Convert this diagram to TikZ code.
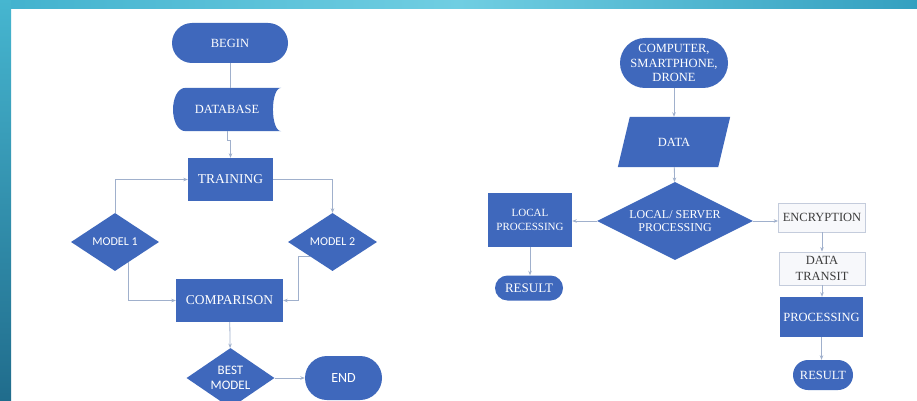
\documentclass[tikz,border=0pt]{standalone}
\usepackage{fontspec}
\setmainfont{Liberation Serif}
\newfontfamily\sansf{Carlito}
\usetikzlibrary{shapes.geometric,arrows.meta,calc,backgrounds}
\definecolor{fblue}{RGB}{63,104,188}
\definecolor{connc}{RGB}{160,176,204}
\definecolor{topL}{RGB}{66,178,206}
\definecolor{topM}{RGB}{112,206,226}
\definecolor{topR}{RGB}{52,160,192}
\definecolor{leftT}{RGB}{70,182,208}
\definecolor{leftB}{RGB}{32,108,140}
\definecolor{lightfill}{RGB}{247,248,251}
\definecolor{lightdraw}{RGB}{196,204,220}
\definecolor{darktext}{RGB}{60,60,60}
\begin{document}
\begin{tikzpicture}[x=1pt,y=-1pt,
  fbbase/.style={fill=fblue,text=white,align=center,inner sep=1pt,font=\fontsize{12.5}{15}\selectfont},
  fbterm/.style={fbbase,rectangle,rounded corners=#1},
  fbproc/.style={fbbase,rectangle},
  fbghost/.style={fbbase,rectangle,fill=none},
  fbdec/.style={fbbase,diamond,inner sep=0pt,aspect=1.5},
  fblight/.style={rectangle,fill=lightfill,draw=lightdraw,line width=0.8pt,text=darktext,align=center,inner sep=1pt,font=\fontsize{12.5}{15}\selectfont},
  fbline/.style={draw=connc,line width=0.8pt},
  fbarrow/.style={fbline,-{Stealth[length=4.5pt,width=3.5pt]}}
]
\useasboundingbox (0,0) rectangle (917,401);
\begin{pgfonlayer}{background}
\fill[white] (0,0) rectangle (917,401);
\shade[left color=topL,right color=topR,middle color=topM] (0,0) rectangle (917,9);
\shade[top color=leftT,bottom color=leftB] (0,0) rectangle (11,401);
\end{pgfonlayer}

% ---------- left flowchart ----------
\node[fbterm=20pt,minimum width=116pt,minimum height=40pt] (begin) at (230,43) {BEGIN};
\node[fbghost,minimum width=108pt,minimum height=43pt] (db) at (227,109.5) {DATABASE};
\node[fbproc,minimum width=85pt,minimum height=43pt,font=\fontsize{13.5}{16}\selectfont] (train) at (230.5,179.5) {TRAINING};
\node[fbdec,minimum width=88pt,minimum height=58pt,font=\sansf\fontsize{12}{15}\selectfont] (m1) at (115,242) {MODEL 1};
\node[fbdec,minimum width=89pt,minimum height=58pt,font=\sansf\fontsize{12}{15}\selectfont] (m2) at (332.5,242) {MODEL 2};
\node[fbproc,minimum width=107pt,minimum height=43pt,font=\fontsize{13.5}{16}\selectfont] (comp) at (229.5,300.5) {COMPARISON};
\node[fbdec,minimum width=88pt,minimum height=60pt,font=\sansf\fontsize{13}{15}\selectfont] (best) at (230.5,378) {BEST\\MODEL};
\node[fbterm=22pt,minimum width=77pt,minimum height=44pt,font=\sansf\fontsize{14}{16}\selectfont] (fin) at (343.5,378) {END};

% ---------- right flowchart ----------
\node[fbterm=25pt,minimum width=108pt,minimum height=50pt,font=\fontsize{12.5}{14.7}\selectfont] (src) at (674,63) {COMPUTER,\\SMARTPHONE,\\DRONE};
\node[fbghost,minimum width=112pt,minimum height=50pt] (data) at (674,142) {DATA};
\node[fbdec,aspect=2,minimum width=156pt,minimum height=78pt,font=\fontsize{12}{13.5}\selectfont] (lsp) at (675,221) {LOCAL/ SERVER\\PROCESSING};
\node[fbproc,minimum width=84pt,minimum height=54pt,font=\fontsize{11}{14.3}\selectfont] (local) at (530,220) {LOCAL\\PROCESSING};
\node[fbterm=12.5pt,minimum width=68pt,minimum height=25pt,font=\fontsize{13}{15}\selectfont] (res1) at (529,288) {RESULT};
\node[fblight,minimum width=87pt,minimum height=29pt] (enc) at (822,217.5) {ENCRYPTION};
\node[fblight,minimum width=86pt,minimum height=33pt,font=\fontsize{12.5}{15.7}\selectfont] (dt) at (822,268.5) {DATA\\TRANSIT};
\node[fbproc,minimum width=83pt,minimum height=40pt] (proc) at (821.5,317) {PROCESSING};
\node[fbterm=15pt,minimum width=60pt,minimum height=30pt] (res2) at (823,375) {RESULT};

% custom shapes behind their labels
\begin{pgfonlayer}{background}
\fill[fblue] ([xshift=13pt]db.north west) -- (db.north east)
  .. controls ([xshift=-11pt]db.north east) and ([xshift=-11pt]db.south east) .. (db.south east)
  -- ([xshift=13pt]db.south west)
  .. controls ([xshift=-4pt]db.south west) and ([xshift=-4pt]db.north west) .. ([xshift=13pt]db.north west) -- cycle;
\fill[fblue] ([xshift=12pt]data.north west) -- (data.north east) -- ([xshift=-12pt]data.south east) -- (data.south west) -- cycle;
\end{pgfonlayer}

% ---------- connectors left ----------
\draw[fbline] (begin.south) -- (begin.south |- db.north);
\draw[fbarrow] (db.south) -- ++(0,9) -| (train.north);
\draw[fbarrow] (m1.north) |- (train.west);
\draw[fbarrow] (train.east) -| (m2.north);
\draw[fbarrow] ($(m1.south)!0.3!(m1.east)$) |- (comp.west);
\draw[fbarrow] ($(m2.west)!0.5!(m2.south)$) -| ($(comp.east)+(15,0)$) -- (comp.east);
\draw[fbarrow] (comp) -- (best);
\draw[fbarrow] (best) -- (fin);

% ---------- connectors right ----------
\draw[fbarrow] (src) -- (data);
\draw[fbarrow] (data) -- (lsp);
\draw[fbarrow] (lsp.west) -- (lsp.west -| local.east);
\draw[fbarrow] (local.south) -- (local.south |- res1.north);
\draw[fbarrow] (lsp.east) -- (lsp.east -| enc.west);
\draw[fbarrow] (enc.south) -- (enc.south |- dt.north);
\draw[fbarrow] (dt.south) -- (dt.south |- proc.north);
\draw[fbarrow] (proc.south) -- (proc.south |- res2.north);
\end{tikzpicture}
\end{document}
